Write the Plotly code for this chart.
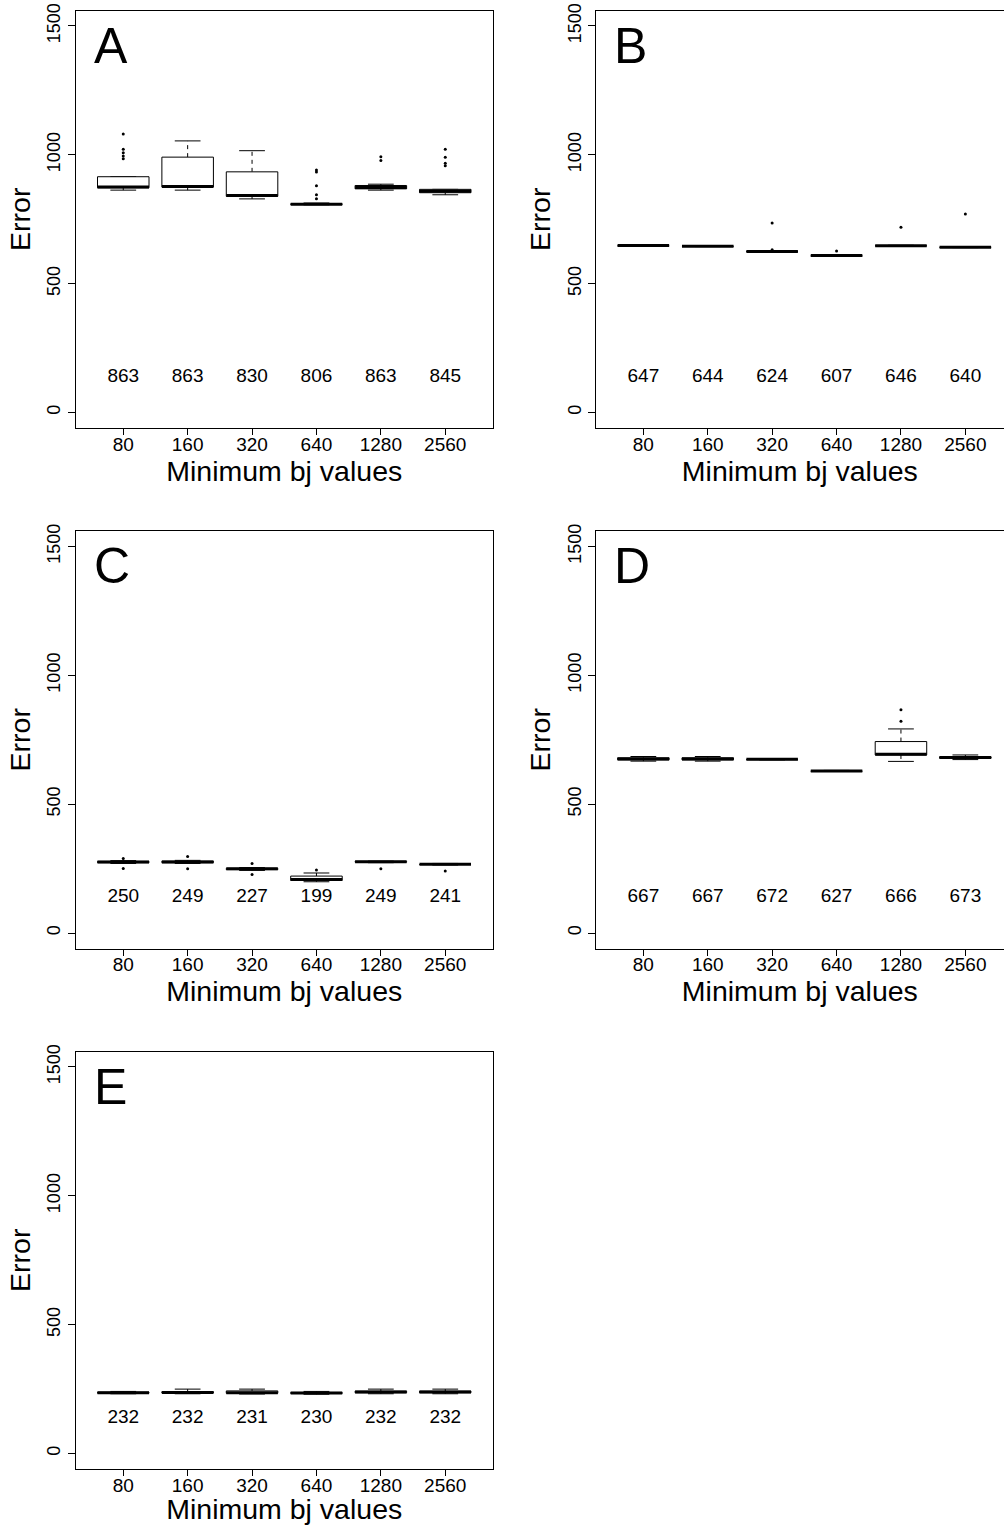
import plotly.graph_objects as go

# ---------------- data ----------------
categories = ["80", "160", "320", "640", "1280", "2560"]
panel_names = ["A", "B", "C", "D", "E"]

A_lo = [863, 863, 829, 806, 863, 845]
A_q1 = [872, 875, 839, 807, 868, 853]
A_med = [875, 877, 842, 808, 873, 859]
A_q3 = [915, 991, 934, 810, 881, 866]
A_hi = [915, 1054, 1016, 813, 886, 866]
A_out = [[985, 995, 1008, 1022, 1081], [], [], [830, 845, 880, 933, 941], [978, 993], [958, 967, 991, 1022]]
A_labels = [863, 863, 830, 806, 863, 845]

B_lo = [647, 644, 624, 607, 646, 640]
B_q1 = [647, 645, 625, 608, 647, 641]
B_med = [648, 645, 625, 609, 647, 641]
B_q3 = [649, 646, 626, 610, 648, 642]
B_hi = [650, 647, 628, 611, 649, 643]
B_out = [[], [], [632, 735], [627], [719], [770]]
B_labels = [647, 644, 624, 607, 646, 640]

C_lo = [270, 270, 243, 199, 273, 264]
C_q1 = [273, 273, 246, 204, 275, 266]
C_med = [276, 276, 249, 208, 277, 267]
C_q3 = [278, 279, 251, 221, 278, 268]
C_hi = [281, 282, 254, 233, 279, 270]
C_out = [[250, 289], [249, 297], [227, 270], [245], [249], [241]]
C_labels = [250, 249, 227, 199, 249, 241]

D_lo = [667, 667, 672, 627, 666, 673]
D_q1 = [672, 672, 673, 628, 691, 678]
D_med = [675, 675, 674, 629, 694, 681]
D_q3 = [680, 680, 675, 630, 743, 684]
D_hi = [685, 685, 676, 631, 792, 691]
D_out = [[], [], [], [], [822, 866], []]
D_labels = [667, 667, 672, 627, 666, 673]

E_lo = [232, 232, 231, 230, 232, 232]
E_q1 = [234, 235, 234, 233, 236, 236]
E_med = [236, 237, 236, 235, 239, 239]
E_q3 = [238, 240, 243, 237, 242, 242]
E_hi = [241, 250, 250, 241, 250, 250]
E_out = [[], [], [], [], [], []]
E_labels = [232, 232, 231, 230, 232, 232]

y_ticks = [0, 500, 1000, 1500]

panels = [
    (A_lo, A_q1, A_med, A_q3, A_hi, A_out, A_labels),
    (B_lo, B_q1, B_med, B_q3, B_hi, B_out, B_labels),
    (C_lo, C_q1, C_med, C_q3, C_hi, C_out, C_labels),
    (D_lo, D_q1, D_med, D_q3, D_hi, D_out, D_labels),
    (E_lo, E_q1, E_med, E_q3, E_hi, E_out, E_labels),
]

# ---------------- layout geometry ----------------
W, H = 1004, 1525
FONT = "Liberation Sans, Arial, Helvetica, sans-serif"
col_left = [75.6, 595.7]
row_top = [10.5, 531.0, 1051.5]
plot_w = 417.3
plot_h = 417.5
positions = [(0, 0), (1, 0), (0, 1), (1, 1), (0, 2)]
LABEL_Y = 138
BOXW = 0.8
CAPW = 0.4

fig = go.Figure()
layout = dict(
    width=W, height=H, margin=dict(l=0, r=0, t=0, b=0),
    paper_bgcolor="white", plot_bgcolor="white", showlegend=False,
    font=dict(family=FONT, color="black"),
)
annotations = []

for k, (name, (lo, q1, med, q3, hi, outs, labels)) in enumerate(zip(panel_names, panels)):
    col, row = positions[k]
    xa = "x" if k == 0 else f"x{k+1}"
    ya = "y" if k == 0 else f"y{k+1}"
    left = col_left[col]
    right = min(left + plot_w, W)
    top = row_top[row]
    bottom = top + plot_h
    xmax = 0.26 + (right - left) / plot_w * 6.48
    xs = list(range(1, len(categories) + 1))

    # whiskers (dashed)
    wx, wy = [], []
    for i, x in enumerate(xs):
        wx += [x, x, None, x, x, None]
        wy += [q3[i], hi[i], None, q1[i], lo[i], None]
    fig.add_trace(go.Scatter(x=wx, y=wy, mode="lines", xaxis=xa, yaxis=ya,
                             line=dict(color="black", width=1, dash="4px,4px"), hoverinfo="skip"))
    # caps
    cx, cy = [], []
    for i, x in enumerate(xs):
        cx += [x - CAPW / 2, x + CAPW / 2, None, x - CAPW / 2, x + CAPW / 2, None]
        cy += [hi[i], hi[i], None, lo[i], lo[i], None]
    fig.add_trace(go.Scatter(x=cx, y=cy, mode="lines", xaxis=xa, yaxis=ya,
                             line=dict(color="black", width=1), hoverinfo="skip"))
    # boxes
    bx, by = [], []
    for i, x in enumerate(xs):
        bx += [x - BOXW / 2, x + BOXW / 2, x + BOXW / 2, x - BOXW / 2, x - BOXW / 2, None]
        by += [q1[i], q1[i], q3[i], q3[i], q1[i], None]
    fig.add_trace(go.Scatter(x=bx, y=by, mode="lines", fill="toself", fillcolor="white",
                             xaxis=xa, yaxis=ya, line=dict(color="black", width=1), hoverinfo="skip"))
    # medians
    mx, my = [], []
    for i, x in enumerate(xs):
        mx += [x - BOXW / 2, x + BOXW / 2, None]
        my += [med[i], med[i], None]
    fig.add_trace(go.Scatter(x=mx, y=my, mode="lines", xaxis=xa, yaxis=ya,
                             line=dict(color="black", width=3), hoverinfo="skip"))
    # outliers
    ox, oy = [], []
    for i, x in enumerate(xs):
        for v in outs[i]:
            ox.append(x)
            oy.append(v)
    if ox:
        fig.add_trace(go.Scatter(x=ox, y=oy, mode="markers", xaxis=xa, yaxis=ya,
                                 marker=dict(color="black", size=3), hoverinfo="skip"))
    # value labels
    fig.add_trace(go.Scatter(x=xs, y=[LABEL_Y] * len(xs), mode="text", xaxis=xa, yaxis=ya,
                             text=[str(v) for v in labels], textposition="middle center",
                             textfont=dict(size=19, family=FONT, color="black"), hoverinfo="skip"))

    xkey = "xaxis" if k == 0 else f"xaxis{k+1}"
    ykey = "yaxis" if k == 0 else f"yaxis{k+1}"
    layout[xkey] = dict(
        domain=[left / W, right / W], anchor=ya, range=[0.26, xmax],
        tickmode="array", tickvals=xs, ticktext=categories,
        ticks="outside", ticklen=6, tickcolor="black", tickwidth=1,
        ticklabelstandoff=-7,
        showline=True, linecolor="black", linewidth=1, mirror=True,
        showgrid=False, zeroline=False,
        tickfont=dict(size=19, family=FONT, color="black"),
        title=dict(text="Minimum bj values", font=dict(size=28.5, family=FONT, color="black"), standoff=0),
        automargin=False, fixedrange=True,
    )
    layout[ykey] = dict(
        domain=[(H - bottom) / H, (H - top) / H], anchor=xa, range=[-60, 1560],
        tickmode="array", tickvals=y_ticks, ticktext=[str(v) for v in y_ticks],
        ticks="outside", ticklen=7, tickcolor="black", tickwidth=1, tickangle=-90,
        showline=True, linecolor="black", linewidth=1, mirror=(col == 0),
        showgrid=False, zeroline=False,
        tickfont=dict(size=18, family=FONT, color="black"),
        title=dict(text="Error", font=dict(size=28.5, family=FONT, color="black"), standoff=5),
        automargin=False, fixedrange=True,
    )
    annotations.append(dict(
        text=name, xref=f"{xa} domain", yref=f"{ya} domain",
        x=0.04, y=0.915, xanchor="left", yanchor="middle", showarrow=False,
        font=dict(size=50, family=FONT, color="black"),
    ))

layout["annotations"] = annotations
fig.update_layout(**layout)
fig.write_html("out.html")
